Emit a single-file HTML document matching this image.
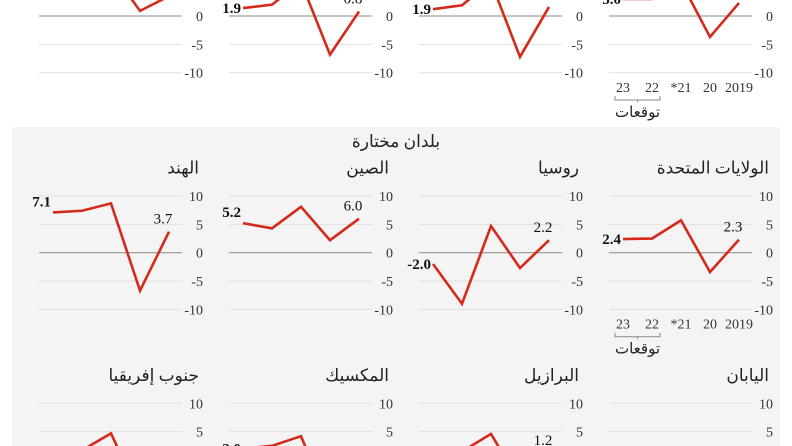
<!DOCTYPE html>
<html><head><meta charset="utf-8">
<style>
html,body{margin:0;background:#fff;width:792px;height:446px;overflow:hidden;}
svg{display:block;font-family:"Liberation Serif","Noto Serif CJK SC",serif;}
.ar{font-family:"Liberation Serif","Noto Sans CJK SC","DejaVu Sans",sans-serif;}
</style></head><body>
<svg id="c" width="792" height="446" viewBox="0 0 792 446">
<rect x="12" y="127" width="768" height="319" fill="#f4f4f4"/>
<text x="396" y="147" text-anchor="middle" font-size="17" fill="#222" class="ar">بلدان مختارة</text>
</svg>
<script>
const years = ["2019","20","*21","22","23"];
const ticks = [10,5,0,-5,-10];
// values in order 2023, 2022, 2021, 2020, 2019
const topWorld = [3.0, 3.0, 6.0, -3.7, 2.3];
const topA = [1.2, 1.9, 6.0, -7.2, 1.6];
const topB = [1.4, 2.0, 6.0, -6.8, 0.8];
const topC = [6.0, 6.0, 8.0, 0.9, 3.5];
const usa = [2.4, 2.5, 5.7, -3.4, 2.3];
const russia = [-2.0, -9.0, 4.7, -2.7, 2.2];
const china = [5.2, 4.3, 8.1, 2.2, 6.0];
const india = [7.1, 7.4, 8.7, -6.7, 3.7];
const japan = [1.3, 1.8, 1.7, -4.8, 0.3];
const brazil = [2.0, 1.5, 4.6, -4.0, 1.2];
const mexico = [2.0, 2.5, 4.2, -8.0, -0.2];
const safrica = [1.5, 1.7, 4.7, -6.4, 0.2];
const leftLabels = ["3.0","1.9","1.9","","2.4","-2.0","5.2","7.1","1.3","","2.0","1.5"];
const rightLabels = ["","1.6","0.8","","2.3","2.2","6.0","3.7","","1.2","",""];
const titles = ["","","","","الولايات المتحدة","روسيا","الصين","الهند","اليابان","البرازيل","المكسيك","جنوب إفريقيا"];

const NS="http://www.w3.org/2000/svg";
const svg=document.getElementById('c');
function mk(t,a,txt){const e=document.createElementNS(NS,t);for(const k in a)e.setAttribute(k,a[k]);if(txt!==undefined)e.textContent=txt;svg.appendChild(e);return e;}
const series=[topWorld,topA,topB,topC,usa,russia,china,india,japan,brazil,mexico,safrica];
const colX=[609,419,229,39];
const rowZero=[16,252.7,460];
const U=5.67;
series.forEach((vals,i)=>{
  const row=Math.floor(i/4), x0=colX[i%4], z=rowZero[row];
  const yS=v=>z-v*U;
  const xS=j=>x0+14+29*j;
  ticks.forEach(t=>{
    const l=mk('line',{x1:x0,x2:x0+143,y1:yS(t),y2:yS(t),stroke:t===0?'#8a8a8a':'#e0e0e0','stroke-width':1});
    
    
    const tx=mk('text',{x:x0+164,y:yS(t)+5,'text-anchor':'end','font-size':14,fill:'#333'},String(t));
    
    
  });
  if(titles[i]){
    const tt=mk('text',{x:x0+160,y:z-79,'text-anchor':'end','font-size':17,fill:'#222',class:'ar'},titles[i]);
    
    
  }
  const pts=vals.map((v,j)=>xS(j)+','+yS(v)).join(' ');
  const pl=mk('polyline',{points:pts,fill:'none',stroke:'#d42a1c','stroke-width':2.6,'stroke-linejoin':'miter'});
  
  
  if(leftLabels[i]){
    const up=(row===1&&(i%4>=2))?-11:0;
    const t=mk('text',{x:xS(0)-2,y:yS(vals[0])+5+up,'text-anchor':'end','font-size':15,'font-weight':'bold',fill:'#111'},leftLabels[i]);
    
    
  }
  if(rightLabels[i]){
    const t=mk('text',{x:xS(4)-6,y:yS(vals[4])-8,'text-anchor':'middle','font-size':15,fill:'#111'},rightLabels[i]);
    
    
  }
  if(i===0||i===4){
    years.forEach((y,k)=>{
      const t=mk('text',{x:xS(4-k),y:z+76,'text-anchor':'middle','font-size':14,fill:'#333'},y);
      
      
    });
    const b=mk('path',{d:`M${xS(0)-8} ${z+80}v4h${(xS(1)-xS(0))+16}v-4M${(xS(0)+xS(1))/2} ${z+84}v2`,fill:'none',stroke:'#888','stroke-width':1});
    
    
    const f=mk('text',{x:(xS(0)+xS(1))/2,y:z+101,'text-anchor':'middle','font-size':15,fill:'#222',class:'ar'},'توقعات');
    
    
  }
});
</script>
</body></html>
